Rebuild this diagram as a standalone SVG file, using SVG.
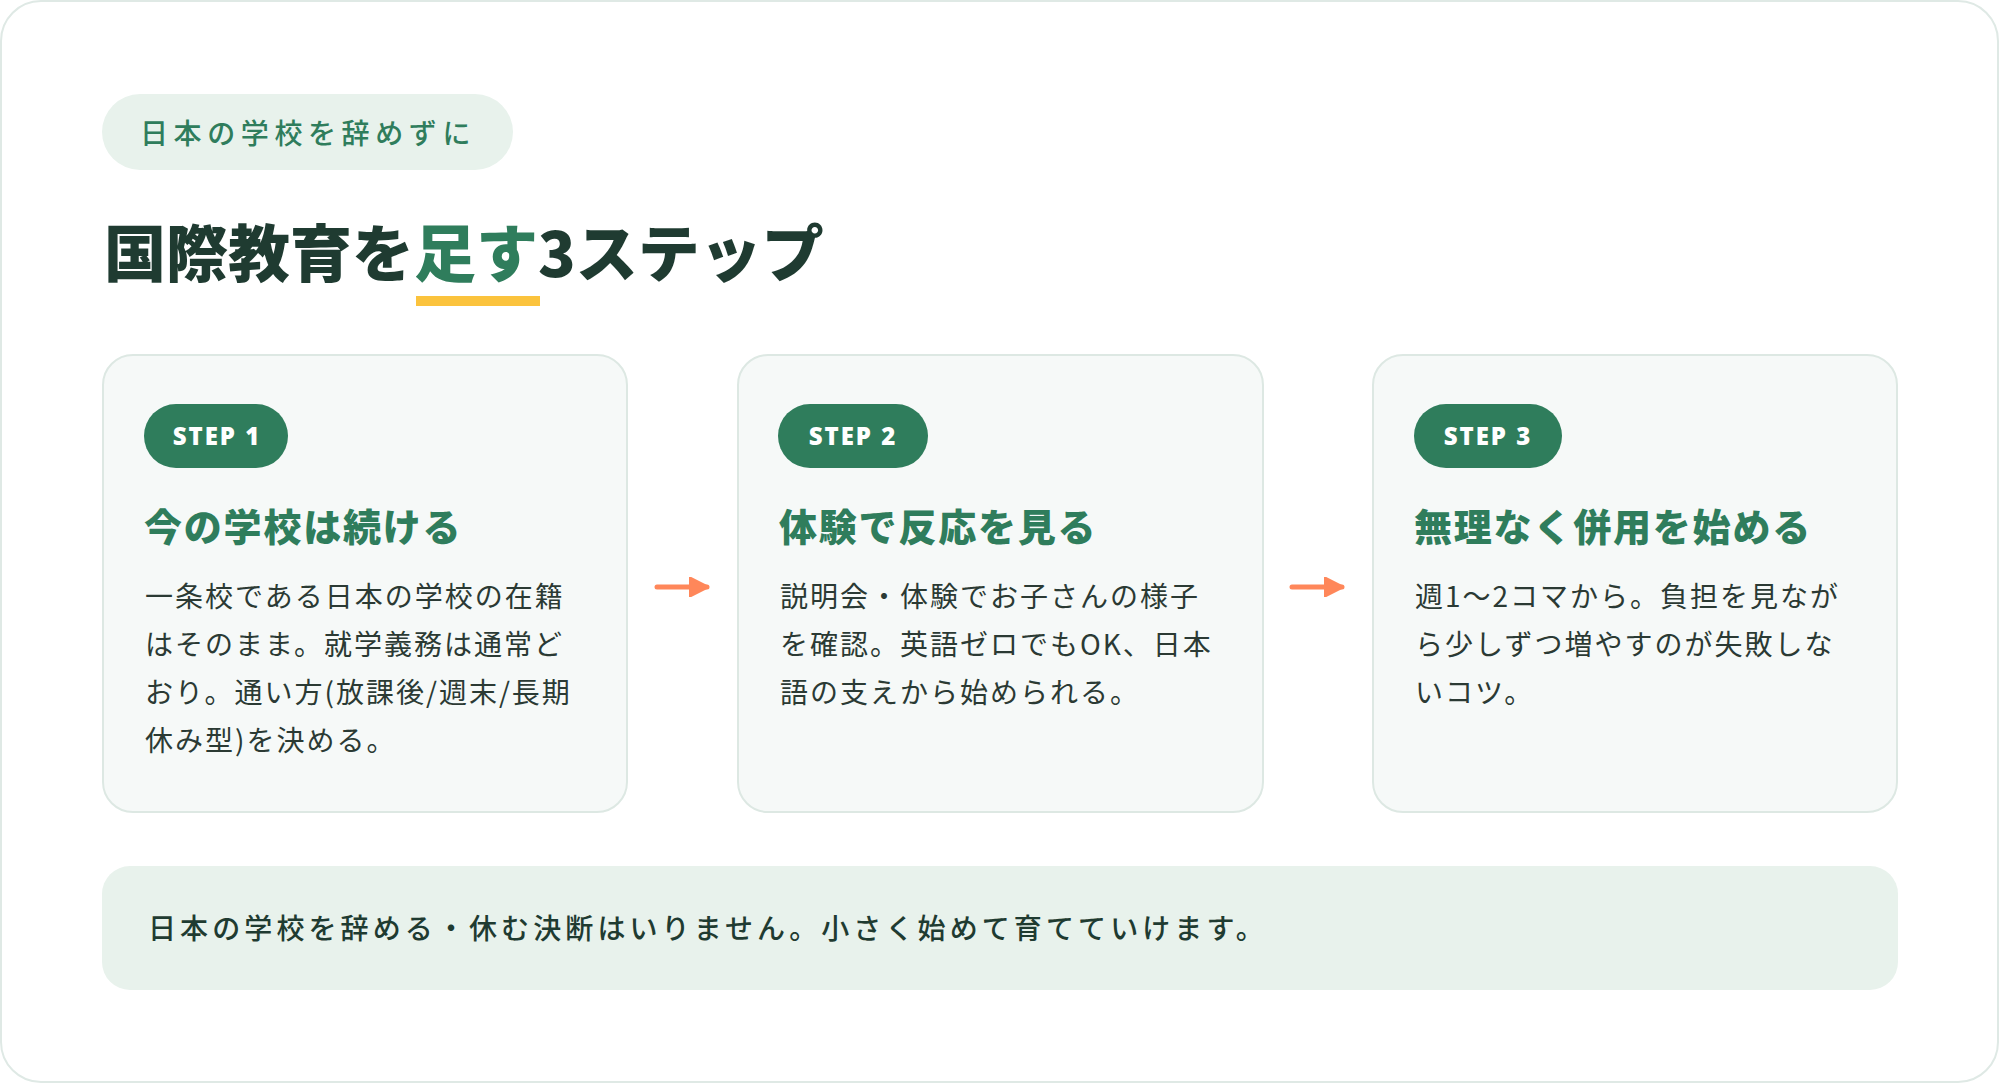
<svg xmlns="http://www.w3.org/2000/svg" width="2000" height="1084" viewBox="0 0 2000 1084">
<defs>
<style>
.frame{fill:#ffffff;stroke:#dfe9e5;stroke-width:2}
.card{fill:#f6f9f8;stroke:#dde8e3;stroke-width:2}
.pill{fill:#2f7d5c}
.pilltxt{font-family:"Noto Sans","Liberation Sans",sans-serif;font-weight:900;font-size:24px;fill:#ffffff;letter-spacing:2px}
.head{font-family:"Noto Sans CJK JP",sans-serif;font-weight:900;font-size:38px;fill:#2f7d5c;letter-spacing:1.8px}
.body{font-family:"Noto Sans CJK JP",sans-serif;font-weight:400;font-size:28px;fill:#2b3a34;letter-spacing:2px}
.conn{stroke:#ff875a;stroke-width:5;stroke-linecap:round;fill:none}
</style>
<marker id="ah" viewBox="0 0 10 10" refX="9" refY="5" markerWidth="4" markerHeight="4" markerUnits="strokeWidth" orient="auto">
<path d="M0,0 L10,5 L0,10 z" fill="#ff875a" stroke="#ff875a" stroke-width="1" stroke-linejoin="round"/>
</marker>
</defs>
<rect class="frame" x="1" y="1" width="1997" height="1081" rx="40"/>
<g id="badge">
<rect x="102" y="94" width="411" height="76" rx="38" fill="#e8f2ec"/>
<text x="140" y="144" font-family="Noto Sans CJK JP, sans-serif" font-weight="500" font-size="28" fill="#2f7d5c" letter-spacing="5.6">日本の学校を辞めずに</text>
</g>
<g id="title">
<rect x="416" y="296" width="124" height="10" fill="#fbc33d"/>
<text x="104" y="277" font-family="Noto Sans CJK JP, sans-serif" font-weight="900" font-size="62" fill="#1f3b31">国際教育を<tspan fill="#2f7d5c">足す</tspan>3ステップ</text>
</g>
<g id="connectors">
<line class="conn" x1="657" y1="587" x2="707" y2="587" marker-end="url(#ah)"/>
<line class="conn" x1="1292" y1="587" x2="1342" y2="587" marker-end="url(#ah)"/>
</g>
<g id="step1">
<rect class="card" x="103" y="355" width="524" height="457" rx="30"/>
<rect class="pill" x="144" y="404" width="144" height="64" rx="32"/>
<text class="pilltxt" x="217" y="445" text-anchor="middle">STEP 1</text>
<text class="head" x="144" y="541">今の学校は続ける</text>
<text class="body" x="145" y="607">一条校である日本の学校の在籍</text>
<text class="body" x="145" y="655">はそのまま。就学義務は通常ど</text>
<text class="body" x="145" y="703">おり。通い方(放課後/週末/長期</text>
<text class="body" x="145" y="751">休み型)を決める。</text>
</g>
<g id="step2">
<rect class="card" x="738" y="355" width="525" height="457" rx="30"/>
<rect class="pill" x="778" y="404" width="150" height="64" rx="32"/>
<text class="pilltxt" x="853" y="445" text-anchor="middle">STEP 2</text>
<text class="head" x="779" y="541">体験で反応を見る</text>
<text class="body" x="780" y="607">説明会・体験でお子さんの様子</text>
<text class="body" x="780" y="655">を確認。英語ゼロでもOK、日本</text>
<text class="body" x="780" y="703">語の支えから始められる。</text>
</g>
<g id="step3">
<rect class="card" x="1373" y="355" width="524" height="457" rx="30"/>
<rect class="pill" x="1414" y="404" width="148" height="64" rx="32"/>
<text class="pilltxt" x="1488" y="445" text-anchor="middle">STEP 3</text>
<text class="head" x="1414" y="541">無理なく併用を始める</text>
<text class="body" x="1415" y="607">週1〜2コマから。負担を見なが</text>
<text class="body" x="1415" y="655">ら少しずつ増やすのが失敗しな</text>
<text class="body" x="1415" y="703">いコツ。</text>
</g>
<g id="note">
<rect x="102" y="866" width="1796" height="124" rx="28" fill="#e8f2ec"/>
<text x="148" y="939" font-family="Noto Sans CJK JP, sans-serif" font-weight="500" font-size="28" fill="#1f3b31" letter-spacing="4.1">日本の学校を辞める・休む決断はいりません。小さく始めて育てていけます。</text>
</g>
</svg>
